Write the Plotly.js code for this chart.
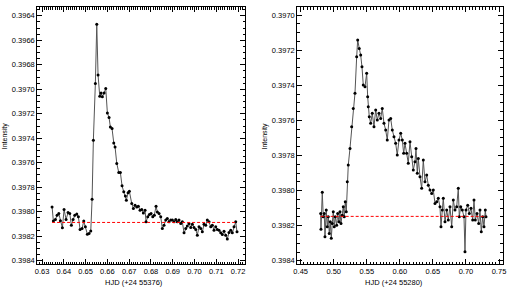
<!DOCTYPE html>
<html>
<head>
<meta charset="utf-8">
<script src="https://cdn.plot.ly/plotly-3.0.1.min.js"></script>
<style>html,body{margin:0;padding:0;background:#fff}#chart{width:512px;height:291px}</style>
</head>
<body>
<div id="chart"></div>
<script>
// Left panel: HJD (+24 55376)
const leftX = [0.63459,0.63519,0.63611,0.63689,0.63767,0.63840,0.63932,0.64010,0.64102,0.64194,0.64272,0.64345,0.64423,0.64501,0.64593,0.64667,0.64745,0.64837,0.64915,0.64988,0.65080,0.65158,0.65236,0.65296,0.65355,0.65447,0.65511,0.65571,0.65649,0.65709,0.65769,0.65847,0.65925,0.65998,0.66076,0.66136,0.66214,0.66292,0.66352,0.66430,0.66522,0.66595,0.66673,0.66751,0.66825,0.66871,0.66949,0.67008,0.67118,0.67192,0.67270,0.67348,0.67421,0.67500,0.67578,0.67651,0.67729,0.67775,0.67853,0.67927,0.68005,0.68083,0.68156,0.68234,0.68294,0.68372,0.68450,0.68523,0.68601,0.68679,0.68753,0.68831,0.68909,0.68983,0.69061,0.69139,0.69212,0.69290,0.69368,0.69442,0.69520,0.69598,0.69671,0.69749,0.69827,0.69901,0.69979,0.70057,0.70130,0.70208,0.70287,0.70360,0.70438,0.70516,0.70590,0.70668,0.70746,0.70819,0.70897,0.70975,0.71049,0.71127,0.71205,0.71278,0.71356,0.71434,0.71508,0.71586,0.71664,0.71737,0.71815,0.71893,0.71953];
const leftY = [0.397961,0.398077,0.398064,0.398029,0.398015,0.398075,0.398132,0.397982,0.398064,0.398006,0.398015,0.398110,0.398064,0.398029,0.398020,0.398042,0.398145,0.398137,0.398077,0.398124,0.398184,0.398178,0.398157,0.397898,0.397416,0.396953,0.396469,0.396883,0.397057,0.397030,0.397060,0.397030,0.396994,0.397193,0.397231,0.397308,0.397321,0.397438,0.397471,0.397606,0.397680,0.397680,0.397789,0.397838,0.397871,0.397906,0.397846,0.397833,0.397933,0.397974,0.397947,0.397961,0.397955,0.397988,0.397982,0.398010,0.397988,0.398083,0.398042,0.398023,0.398015,0.398042,0.398029,0.397955,0.398002,0.398015,0.398042,0.398137,0.398110,0.398069,0.398055,0.398083,0.398069,0.398069,0.398083,0.398064,0.398083,0.398069,0.398096,0.398083,0.398173,0.398137,0.398118,0.398096,0.398129,0.398102,0.398129,0.398145,0.398192,0.398124,0.398137,0.398165,0.398102,0.398110,0.398069,0.398083,0.398124,0.398110,0.398151,0.398124,0.398145,0.398151,0.398173,0.398186,0.398159,0.398192,0.398224,0.398170,0.398151,0.398173,0.398124,0.398083,0.398165];
const leftRefX = [0.63459, 0.71953];
const leftRefY = [0.398088, 0.398088];

// Right panel: HJD (+24 55280)
const rightX = [0.48026,0.48071,0.48268,0.48419,0.48570,0.48676,0.48873,0.49024,0.49175,0.49327,0.49478,0.49629,0.49781,0.49932,0.50083,0.50234,0.50446,0.50598,0.50794,0.50946,0.51097,0.51293,0.51445,0.51596,0.51747,0.51899,0.52050,0.52201,0.52458,0.52716,0.52958,0.53215,0.53472,0.53623,0.53865,0.54077,0.54274,0.54470,0.54728,0.54985,0.55136,0.55227,0.55378,0.55590,0.55832,0.56089,0.56346,0.56589,0.56846,0.57103,0.57345,0.57602,0.57859,0.58101,0.58359,0.58616,0.58858,0.59115,0.59372,0.59614,0.59871,0.60129,0.60371,0.60582,0.60779,0.61036,0.61278,0.61536,0.61793,0.62035,0.62292,0.62443,0.62640,0.62791,0.63048,0.63305,0.63548,0.63805,0.64062,0.64304,0.64561,0.64818,0.65061,0.65318,0.65575,0.65817,0.66074,0.66225,0.66422,0.66573,0.66830,0.67088,0.67330,0.67587,0.67844,0.68086,0.68343,0.68601,0.68843,0.68994,0.69206,0.69448,0.69705,0.69856,0.70008,0.70265,0.70507,0.70764,0.71021,0.71218,0.71415,0.71672,0.71929,0.72126,0.72322,0.72534,0.72731,0.72927,0.73033];
const rightY = [0.398130,0.398221,0.398010,0.398149,0.398130,0.398263,0.398111,0.398206,0.398149,0.398244,0.398178,0.398272,0.398187,0.398121,0.398206,0.398149,0.398197,0.398130,0.398178,0.398121,0.398187,0.398140,0.398092,0.398149,0.398064,0.398121,0.397950,0.397855,0.397760,0.397636,0.397532,0.397446,0.397238,0.397142,0.397190,0.397228,0.397295,0.397399,0.397409,0.397332,0.397466,0.397523,0.397579,0.397617,0.397560,0.397636,0.397541,0.397598,0.397560,0.397589,0.397532,0.397617,0.397655,0.397712,0.397598,0.397589,0.397655,0.397693,0.397731,0.397798,0.397712,0.397674,0.397712,0.397788,0.397731,0.397788,0.397845,0.397722,0.397807,0.397883,0.397836,0.397760,0.397902,0.397817,0.397921,0.397987,0.397826,0.397950,0.397912,0.397969,0.397997,0.398016,0.397997,0.398073,0.398064,0.398044,0.398092,0.398206,0.398111,0.398044,0.398178,0.398111,0.398168,0.398092,0.398206,0.398054,0.398111,0.398092,0.397987,0.398149,0.398092,0.398111,0.398149,0.398349,0.398111,0.398083,0.398130,0.398101,0.398168,0.398054,0.398168,0.398130,0.398187,0.398111,0.398235,0.398149,0.398206,0.398111,0.398149];
const rightRefX = [0.48026, 0.73033];
const rightRefY = [0.398147, 0.398147];

const leftTitle = "HJD (+24 55376)";
const rightTitle = "HJD (+24 55280)";
const yTitle = "Intensity";

const FONT = {family: "Liberation Sans, Arial, sans-serif", size: 7, color: "#000"};
const XFONT = {family: "Liberation Sans, Arial, sans-serif", size: 7.5, color: "#000"};
const YFONT = {family: "Liberation Sans, Arial, sans-serif", size: 7.5, color: "#000"};

function dataTrace(x, y, xa, ya) {
  return {x: x, y: y, xaxis: xa, yaxis: ya, type: "scatter", mode: "lines+markers",
    line: {color: "#555", width: 1}, marker: {color: "#000", size: 3}, hoverinfo: "skip", showlegend: false};
}
function refTrace(x, y, xa, ya) {
  return {x: x, y: y, xaxis: xa, yaxis: ya, type: "scatter", mode: "lines",
    line: {color: "#ff0000", width: 1, dash: "3px,2px"}, hoverinfo: "skip", showlegend: false};
}

const traces = [
  dataTrace(leftX, leftY, "x", "y"),
  refTrace(leftRefX, leftRefY, "x", "y"),
  dataTrace(rightX, rightY, "x2", "y2"),
  refTrace(rightRefX, rightRefY, "x2", "y2")
];

function axis(extra) {
  return Object.assign({
    showline: true, linecolor: "#000", linewidth: 1, mirror: "allticks",
    ticks: "inside", ticklen: 5, tickwidth: 1, tickcolor: "#000",
    showgrid: false, zeroline: false, fixedrange: true
  }, extra);
}

const yDom = [1 - 264.3/291, 1 - 7.3/291];

const layout = {
  width: 512, height: 291,
  margin: {l: 0, r: 0, t: 0, b: 0},
  paper_bgcolor: "#fff", plot_bgcolor: "#fff",
  font: FONT,
  xaxis: axis({domain: [37.3/512, 245/512], range: [0.6278, 0.7232], tick0: 0.63, dtick: 0.01, tickformat: ".2f", anchor: "y", tickfont: XFONT,
    minor: {dtick: 0.001, ticks: "inside", ticklen: 2.5, tickcolor: "#000", tickwidth: 1}}),
  yaxis: axis({domain: yDom, range: [0.39843, 0.39633], tick0: 0.3964, dtick: 0.0002, tickformat: ".4f", anchor: "x", tickfont: YFONT,
    minor: {dtick: 0.00005, ticks: "inside", ticklen: 2.5, tickcolor: "#000", tickwidth: 1}}),
  xaxis2: axis({domain: [297.3/512, 502.7/512], range: [0.4449, 0.7556], tick0: 0.45, dtick: 0.05, tickformat: ".2f", anchor: "y2", tickfont: XFONT,
    minor: {dtick: 0.005, ticks: "inside", ticklen: 2.5, tickcolor: "#000", tickwidth: 1}}),
  yaxis2: axis({domain: yDom, range: [0.39842, 0.396956], tick0: 0.3970, dtick: 0.0002, tickformat: ".4f", anchor: "x2", tickfont: YFONT,
    minor: {dtick: 0.00005, ticks: "inside", ticklen: 2.5, tickcolor: "#000", tickwidth: 1}}),
  annotations: [
    {text: leftTitle, xref: "paper", yref: "paper", x: 133.7/512, y: 1 - 282/291, showarrow: false, font: XFONT, xanchor: "center", yanchor: "middle"},
    {text: rightTitle, xref: "paper", yref: "paper", x: 393.7/512, y: 1 - 282/291, showarrow: false, font: XFONT, xanchor: "center", yanchor: "middle"},
    {text: yTitle, xref: "paper", yref: "paper", x: 5.3/512, y: 1 - 136/291, showarrow: false, font: FONT, textangle: -90, xanchor: "center", yanchor: "middle"},
    {text: yTitle, xref: "paper", yref: "paper", x: 264.5/512, y: 1 - 136/291, showarrow: false, font: FONT, textangle: -90, xanchor: "center", yanchor: "middle"}
  ]
};

Plotly.newPlot("chart", traces, layout, {staticPlot: true, displayModeBar: false});
</script>
</body>
</html>
